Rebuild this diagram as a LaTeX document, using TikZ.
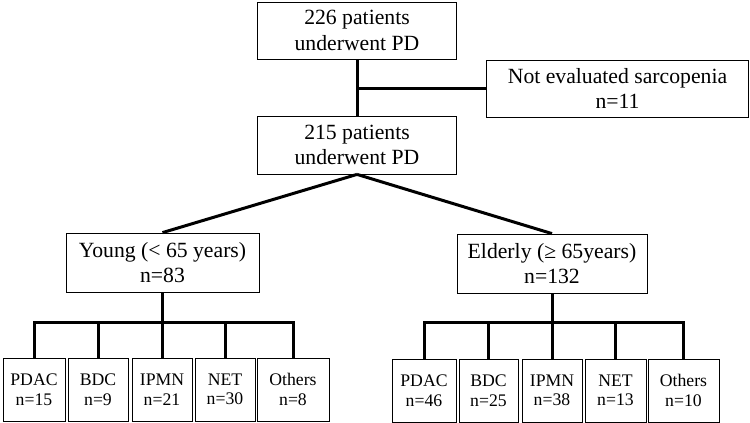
\documentclass[tikz,border=0pt]{standalone}
\usepackage{fontspec}
\setmainfont{Liberation Serif}
\begin{document}
\begin{tikzpicture}[x=1pt,y=-1pt,
  box/.style={draw, line width=0.8pt, inner sep=0pt, align=center, anchor=center},
  bigbox/.style={box, font=\fontsize{21.7}{25.5}\selectfont},
  smallbox/.style={box, font=\fontsize{17.7}{19.5}\selectfont},
  conn/.style={line width=3pt}]
\useasboundingbox (0,0) rectangle (750,423);
% main boxes
\node[bigbox, minimum width=199pt, minimum height=57pt] (top) at (357,30.5) {226 patients\\underwent PD};
\node[bigbox, minimum width=262pt, minimum height=57pt] (notev) at (617.5,88.5) {Not evaluated sarcopenia\\n=11};
\node[bigbox, minimum width=199pt, minimum height=58pt] (mid) at (357,145) {215 patients\\underwent PD};
\node[bigbox, minimum width=193pt, minimum height=59pt] (young) at (162.5,262.5) {Young (< 65 years)\\n=83};
\node[bigbox, minimum width=190pt, minimum height=59pt] (old) at (552,263.5) {Elderly (≥ 65years)\\n=132};
% young children
\node[smallbox, minimum width=62pt, minimum height=63pt] (y1) at (34,389.5) {PDAC\\n=15};
\node[smallbox, minimum width=60pt, minimum height=63pt] (y2) at (98,389.5) {BDC\\n=9};
\node[smallbox, minimum width=60pt, minimum height=63pt] (y3) at (162,389.5) {IPMN\\n=21};
\node[smallbox, minimum width=60pt, minimum height=63pt] (y4) at (225,389.5) {NET\\n=30};
\node[smallbox, minimum width=72pt, minimum height=63pt] (y5) at (293,389.5) {Others\\n=8};
% elderly children
\node[smallbox, minimum width=64pt, minimum height=63pt] (e1) at (424,390.5) {PDAC\\n=46};
\node[smallbox, minimum width=59pt, minimum height=63pt] (e2) at (488.5,390.5) {BDC\\n=25};
\node[smallbox, minimum width=60pt, minimum height=63pt] (e3) at (552,390.5) {IPMN\\n=38};
\node[smallbox, minimum width=61pt, minimum height=63pt] (e4) at (615.5,390.5) {NET\\n=13};
\node[smallbox, minimum width=71pt, minimum height=63pt] (e5) at (683.5,390.5) {Others\\n=10};
% connectors
\draw[conn] (top.south) -- (mid.north);
\draw[conn] (top.south |- notev.west) -- (notev.west);
\draw[conn] (mid.south) -- (young.north);
\draw[conn] (mid.south) -- (old.north);
\coordinate (ybar) at (162.5,322);
\coordinate (ebar) at (552,322);
\draw[conn] (young.south) -- (ybar);
\draw[conn] (y1.north) -- (y1.north |- ybar) -- (y5.north |- ybar) -- (y5.north);
\foreach \c in {y2,y3,y4} \draw[conn] (\c.north |- ybar) -- (\c.north);
\draw[conn] (old.south) -- (ebar);
\draw[conn] (e1.north) -- (e1.north |- ebar) -- (e5.north |- ebar) -- (e5.north);
\foreach \c in {e2,e3,e4} \draw[conn] (\c.north |- ebar) -- (\c.north);
\end{tikzpicture}
\end{document}
